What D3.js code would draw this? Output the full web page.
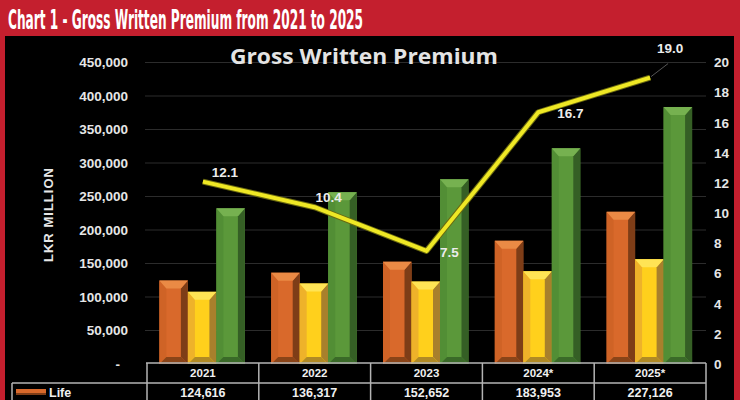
<!DOCTYPE html>
<html><head><meta charset="utf-8">
<script src="https://cdn.jsdelivr.net/npm/d3@7/dist/d3.min.js"></script>
<style>body{margin:0;background:#fff}svg{display:block}</style>
</head><body>
<svg id="c" width="740" height="400"></svg>
<script>
// ---- data ----
const years = ["2021", "2022", "2023", "2024*", "2025*"];
const life = [124616, 136317, 152652, 183953, 227126];
const general = [107700, 120200, 123000, 138500, 156500];
const total = [232300, 256500, 275700, 322000, 383600];
const growth = [12.1, 10.4, 7.5, 16.7, 19.0];
const leftTicks = [0, 50000, 100000, 150000, 200000, 250000, 300000, 350000, 400000, 450000];
const rightTicks = [0, 2, 4, 6, 8, 10, 12, 14, 16, 18, 20];
const seriesNames = ["Life", "General", "Total"];

// ---- layout / style ----
const labelOffsets = [[22, -9], [14, -10], [23, 2], [32, 1], [20, -29]];
const palettes = [
  {face: "#d9692b", left: "#cf6326", right: "#7e3d17", top: "#ea8a45", bottom: "#8a4418"},
  {face: "#ffd01c", left: "#eeb22a", right: "#a8802c", top: "#ffe455", bottom: "#b08a25"},
  {face: "#5b983a", left: "#528e35", right: "#355f25", top: "#76b150", bottom: "#3a6a28"}
];

const svg = d3.select("#c");
// frame
svg.append("rect").attr("x", 0).attr("y", 0).attr("width", 740).attr("height", 400).attr("fill", "#c41f2e");
svg.append("rect").attr("x", 5).attr("y", 36).attr("width", 729).attr("height", 364).attr("fill", "#000");
svg.append("text").attr("x", 8).attr("y", 29)
  .attr("font-family", "'Liberation Sans Narrow','DejaVu Sans Condensed',sans-serif")
  .attr("font-weight", "bold").attr("font-size", 26).attr("fill", "#fff")
  .attr("textLength", 355).attr("lengthAdjust", "spacingAndGlyphs")
  .text("Chart 1 - Gross Written Premium from 2021 to 2025");

const x = d3.scaleBand().domain(years).range([147, 706]).padding(0);
const yL = d3.scaleLinear().domain([0, 450000]).range([364, 62.5]);
const yR = d3.scaleLinear().domain([0, 20]).range([364, 62.5]);
const inner = d3.scaleBand().domain(seriesNames).range([-43.5, 42]).padding(0);

// gridlines
svg.append("g").selectAll("line").data(leftTicks.slice(1)).join("line")
  .attr("x1", 145).attr("x2", 706).attr("y1", d => yL(d)).attr("y2", d => yL(d))
  .attr("stroke", "#2c2c2c").attr("stroke-width", 1.2);

// left axis
const axL = svg.append("g").attr("transform", "translate(128,0)")
  .call(d3.axisLeft(yL).tickValues(leftTicks).tickSize(0).tickPadding(0)
    .tickFormat(d => d === 0 ? "-" : d3.format(",")(d)));
axL.select(".domain").remove();
axL.selectAll("text").attr("fill", "#e6e6e6").attr("font-family", "Arial, 'Liberation Sans', sans-serif")
  .attr("font-weight", "bold").attr("font-size", 13.5).attr("dx", d => d === 0 ? -8 : 0);

// right axis
const axR = svg.append("g").attr("transform", "translate(714,0)")
  .call(d3.axisRight(yR).tickValues(rightTicks).tickSize(0).tickPadding(0));
axR.select(".domain").remove();
axR.selectAll("text").attr("fill", "#e6e6e6").attr("font-family", "Arial, 'Liberation Sans', sans-serif")
  .attr("font-weight", "bold").attr("font-size", 13.5);

// y axis title
svg.append("text").attr("transform", "translate(53,215) rotate(-90)")
  .attr("text-anchor", "middle").attr("fill", "#e6e6e6")
  .attr("font-family", "Arial, 'Liberation Sans', sans-serif").attr("font-weight", "bold").attr("font-size", 13)
  .attr("textLength", 94).attr("lengthAdjust", "spacing")
  .text("LKR MILLION");

// chart title
svg.append("text").attr("x", 364).attr("y", 64).attr("text-anchor", "middle")
  .attr("font-family", "'Open Sans', sans-serif").attr("font-weight", 700).attr("font-size", 21)
  .attr("fill", "#e4e4e4").attr("textLength", 268).attr("lengthAdjust", "spacingAndGlyphs")
  .text("Gross Written Premium");

// bars
const seriesVals = [life, general, total];
const barData = [];
years.forEach((yr, i) => seriesNames.forEach((s, j) => barData.push({yr, s, j, v: seriesVals[j][i]})));
const bars = svg.append("g").selectAll("g").data(barData).join("g");
bars.each(function(d) {
  const g = d3.select(this), p = palettes[d.j];
  const x0 = x(d.yr) + x.bandwidth() / 2 + inner(d.s), w = inner.bandwidth();
  const y0 = yL(d.v), yb = yL(0), b = 7, bt = 8;
  g.append("rect").attr("x", x0).attr("y", y0).attr("width", w).attr("height", yb - y0).attr("fill", p.face);
  g.append("polygon").attr("points", [[x0, y0], [x0 + b, y0 + bt], [x0 + b, yb - b], [x0, yb]].join(" ")).attr("fill", p.left);
  g.append("polygon").attr("points", [[x0 + w, y0], [x0 + w - b, y0 + bt], [x0 + w - b, yb - b], [x0 + w, yb]].join(" ")).attr("fill", p.right);
  g.append("polygon").attr("points", [[x0, y0], [x0 + w, y0], [x0 + w - b, y0 + bt], [x0 + b, y0 + bt]].join(" ")).attr("fill", p.top);
  g.append("polygon").attr("points", [[x0, yb], [x0 + w, yb], [x0 + w - b, yb - b], [x0 + b, yb - b]].join(" ")).attr("fill", p.bottom);
});

// growth line
const pts = years.map((yr, i) => [x(yr) + x.bandwidth() / 2, yR(growth[i])]);
const line = d3.line();
svg.append("path").attr("d", line(pts)).attr("fill", "none").attr("stroke", "#6b6a10").attr("stroke-width", 6).attr("stroke-linejoin", "round");
svg.append("path").attr("d", line(pts)).attr("fill", "none").attr("stroke", "#efe825").attr("stroke-width", 4).attr("stroke-linejoin", "round");

// leader line for last label
const last = pts[pts.length - 1];
svg.append("line").attr("x1", last[0] + 1).attr("y1", last[1] - 1).attr("x2", last[0] + 18).attr("y2", last[1] - 14)
  .attr("stroke", "#555").attr("stroke-width", 1);

svg.append("g").selectAll("text").data(growth).join("text")
  .attr("x", (d, i) => pts[i][0] + labelOffsets[i][0]).attr("y", (d, i) => pts[i][1] + labelOffsets[i][1])
  .attr("text-anchor", "middle").attr("dominant-baseline", "central")
  .attr("fill", "#ececec").attr("font-family", "Arial, 'Liberation Sans', sans-serif")
  .attr("font-weight", "bold").attr("font-size", 13.5)
  .text(d => d.toFixed(1));

// table
const tbl = svg.append("g");
const tStroke = "#b4b4b4";
tbl.append("line").attr("x1", 146).attr("x2", 706).attr("y1", 363).attr("y2", 363).attr("stroke", tStroke).attr("stroke-width", 1.5);
tbl.append("line").attr("x1", 12).attr("x2", 706).attr("y1", 383).attr("y2", 383).attr("stroke", tStroke).attr("stroke-width", 1.5);
tbl.append("line").attr("x1", 12).attr("x2", 12).attr("y1", 383).attr("y2", 400).attr("stroke", tStroke).attr("stroke-width", 1.5);
const edges = years.map(yr => x(yr)).concat([x.range()[1]]);
tbl.selectAll("line.v").data(edges).join("line").attr("class", "v")
  .attr("x1", d => d).attr("x2", d => d).attr("y1", 363).attr("y2", 400).attr("stroke", tStroke).attr("stroke-width", 1.5);
tbl.selectAll("text.yr").data(years).join("text").attr("class", "yr")
  .attr("x", d => x(d) + x.bandwidth() / 2).attr("y", 373).attr("text-anchor", "middle").attr("dominant-baseline", "central")
  .attr("fill", "#f0f0f0").attr("font-family", "Arial, 'Liberation Sans', sans-serif").attr("font-weight", "bold").attr("font-size", 11.5)
  .text(d => d);
tbl.selectAll("text.val").data(life).join("text").attr("class", "val")
  .attr("x", (d, i) => x(years[i]) + x.bandwidth() / 2).attr("y", 392.5).attr("text-anchor", "middle").attr("dominant-baseline", "central")
  .attr("fill", "#f0f0f0").attr("font-family", "Arial, 'Liberation Sans', sans-serif").attr("font-weight", "bold").attr("font-size", 12.5)
  .text(d => d3.format(",")(d));
tbl.append("rect").attr("x", 16).attr("y", 389).attr("width", 30).attr("height", 6).attr("fill", palettes[0].face);
tbl.append("rect").attr("x", 16).attr("y", 393).attr("width", 30).attr("height", 2).attr("fill", palettes[0].right);
tbl.append("text").attr("x", 49).attr("y", 392.5).attr("dominant-baseline", "central")
  .attr("fill", "#f0f0f0").attr("font-family", "Arial, 'Liberation Sans', sans-serif").attr("font-weight", "bold").attr("font-size", 12.5)
  .text(seriesNames[0]);
</script>
</body></html>
